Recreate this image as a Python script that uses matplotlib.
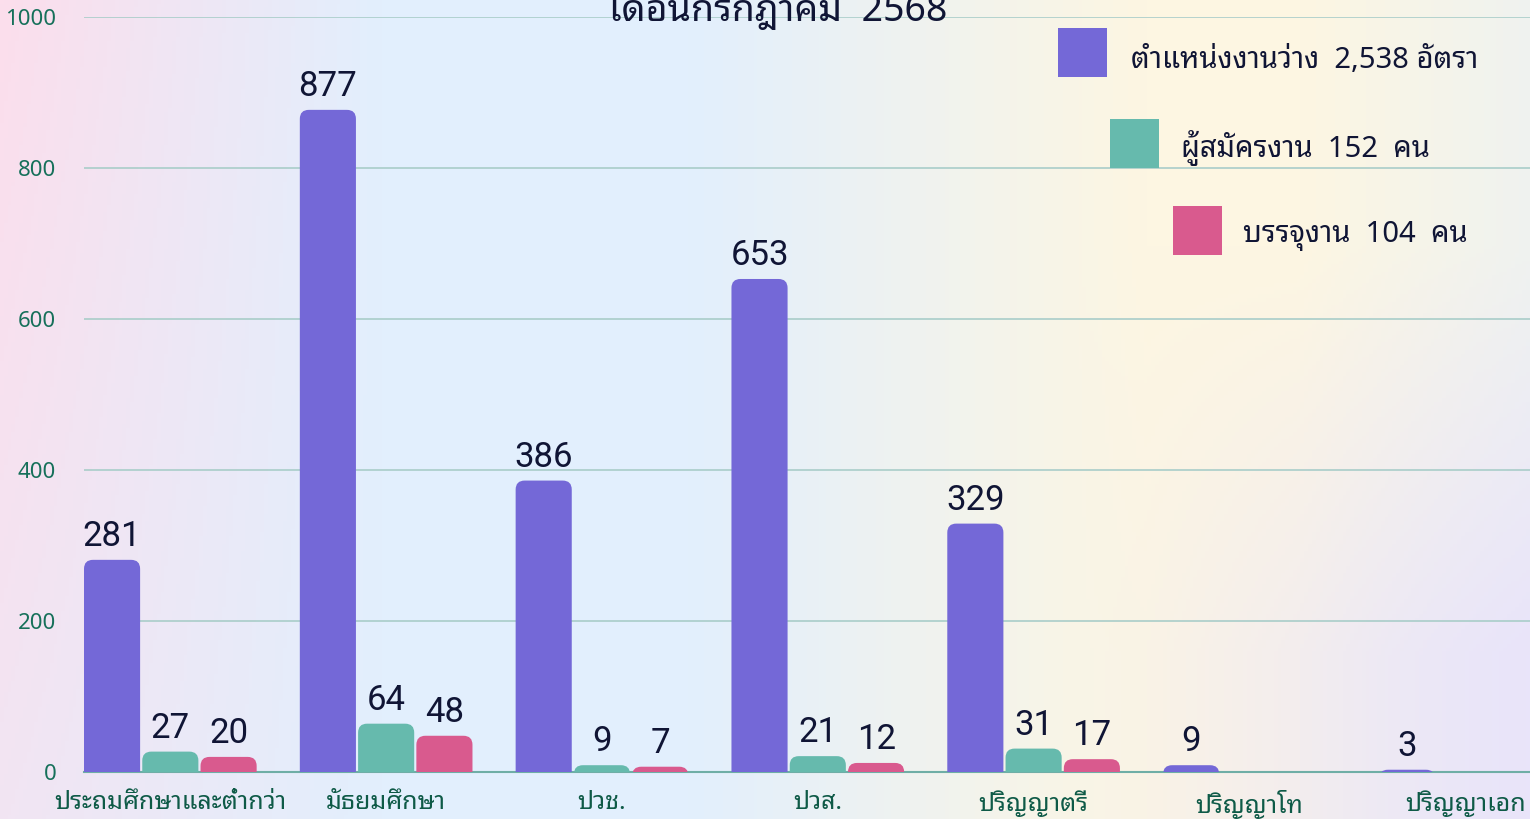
import numpy as np
import matplotlib
matplotlib.use("Agg")
import matplotlib.pyplot as plt
import matplotlib.patches as mpatches
from matplotlib import font_manager
from matplotlib.ft2font import FT2Font

categories = ['ประถมศึกษาและต่ำกว่า', 'มัธยมศึกษา', 'ปวช.', 'ปวส.',
              'ปริญญาตรี', 'ปริญญาโท', 'ปริญญาเอก']
vacancies = [281, 877, 386, 653, 329, 9, 3]
applicants = [27, 64, 9, 21, 31, 0, 0]
placed = [20, 48, 7, 12, 17, 0, 0]
series_labels = ['ตำแหน่งงานว่าง  2,538 อัตรา', 'ผู้สมัครงาน  152  คน', 'บรรจุงาน  104  คน']
title = 'เดือนกรกฎาคม  2568'

colors = ['#7468D7', '#66BAAD', '#D95A8E']


def find_font(test_char, prefer=()):
    found = []
    for f in font_manager.fontManager.ttflist:
        try:
            if ord(test_char) in FT2Font(f.fname).get_charmap():
                found.append(f.name)
        except Exception:
            pass
    for p in prefer:
        for n in found:
            if p.lower() in n.lower():
                return n
    return found[0] if found else 'DejaVu Sans'


thai = find_font('ก', prefer=('Noto Sans Thai', 'Thai', 'Sarabun', 'Loma', 'Garuda'))
names = {f.name for f in font_manager.fontManager.ttflist}
digits = 'Liberation Sans Narrow' if 'Liberation Sans Narrow' in names else 'Roboto'
plt.rcParams['font.family'] = [thai, 'DejaVu Sans']

fig = plt.figure(figsize=(15.3, 8.19), dpi=100)

# pastel background
bg = fig.add_axes([0, 0, 1, 1], zorder=-10)
xx = np.linspace(0, 1, 400)
yy = np.linspace(0, 1, 220)
X, Y = np.meshgrid(xx, yy)
pink = np.array([252, 222, 236]) / 255
blue = np.array([226, 239, 253]) / 255
cream = np.array([253, 246, 226]) / 255
lav = np.array([233, 228, 250]) / 255
w_pink = np.clip(1 - X / 0.25, 0, 1) * (1 - 0.4 * Y)
w_cream = np.clip((X - 0.45) / 0.3, 0, 1) * np.clip(1 - (X - 0.85) / 0.3, 0.3, 1)
w_lav = np.clip((X - 0.7) / 0.3, 0, 1) * np.clip((Y - 0.3) / 0.5, 0, 1)
img = blue[None, None, :] * np.ones(X.shape)[..., None]
img = img * (1 - w_pink[..., None]) + pink * w_pink[..., None]
img = img * (1 - w_cream[..., None]) + cream * w_cream[..., None]
img = img * (1 - w_lav[..., None]) + lav * w_lav[..., None]
bg.imshow(img, aspect='auto', origin='upper', extent=[0, 1, 0, 1])
bg.axis('off')

ax = fig.add_axes([84 / 1530, 1 - 772 / 819, 1 - 84 / 1530, (772 - 17) / 819])
ax.patch.set_alpha(0)

x = np.arange(len(categories))
width = 0.26
step = 0.27
px_x = 216.0
px_y = 755.0 / 1000
r_px = 9
rx = r_px / px_x
ry = r_px / px_y

for i, (vals, col) in enumerate(zip([vacancies, applicants, placed], colors)):
    bars = ax.bar(x + (i - 1) * step, vals, width=width, color=col)
    for b, v in zip(bars, vals):
        b.set_visible(False)
        if v <= 0:
            continue
        p = mpatches.FancyBboxPatch((b.get_x(), -ry), b.get_width(), b.get_height() + ry,
                                    boxstyle=f"round,pad=0,rounding_size={rx}",
                                    mutation_aspect=ry / rx, facecolor=col,
                                    edgecolor='none', zorder=3)
        ax.add_patch(p)
        ax.annotate(str(v), (b.get_x() + b.get_width() / 2, v), xytext=(0, 5),
                    textcoords='offset points', ha='center', va='bottom',
                    fontsize=25, color='#101535', family=[digits, thai])

ax.set_xlim(-0.4, 6.3)
ax.set_ylim(0, 1000)
ax.set_yticks([0, 200, 400, 600, 800, 1000])
ax.set_yticklabels(['0', '200', '400', '600', '800', '1000'], family=['Noto Sans', thai],
                   fontsize=16, color='#16705A')
ax.set_xticks(x)
ax.set_xticklabels(categories, fontsize=18, color='#0E5A47')
ax.tick_params(axis='y', length=0, pad=20)
ax.tick_params(axis='x', length=0, pad=13)
ax.grid(axis='y', color='#A9CDC9', linewidth=1.2, zorder=0)
ax.set_axisbelow(True)
for s in ['top', 'right', 'left']:
    ax.spines[s].set_visible(False)
ax.spines['bottom'].set_color('#6FAEA6')
ax.spines['bottom'].set_linewidth(1.5)

# legend with staggered swatches
leg_pos = [(1058, 28, 1131, 60), (1110, 119, 1181, 148), (1173, 206, 1243, 236)]
for (sx, sy, tx, ty), col, lab in zip(leg_pos, colors, series_labels):
    fig.patches.append(mpatches.Rectangle((sx / 1530, 1 - (sy + 49) / 819), 49 / 1530, 49 / 819,
                                          transform=fig.transFigure, facecolor=col,
                                          edgecolor='none'))
    fig.text(tx / 1530, 1 - ty / 819, lab, ha='left', va='center', fontsize=21,
             color='#101535', family=[thai, digits])

fig.text(778 / 1530, 1 - 21 / 819, title, ha='center', va='baseline', fontsize=27,
         color='#101535')

fig.savefig('out.png', dpi=100)
